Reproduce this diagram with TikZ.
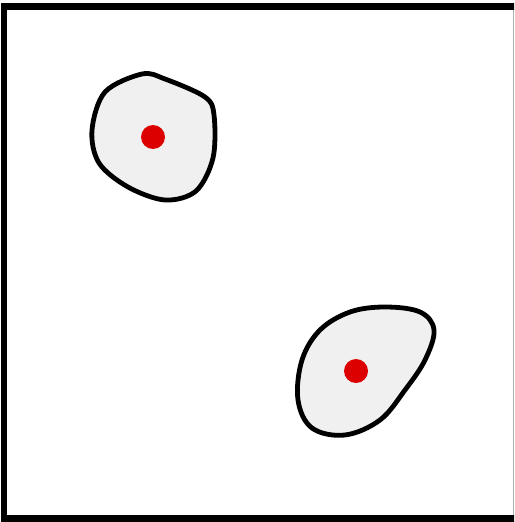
\documentclass[tikz,border=0pt]{standalone}
\begin{document}
\begin{tikzpicture}[x=1pt,y=-1pt,
  blob/.style={draw=black,line width=4.8pt,fill=blobgray,line join=round},
  seed/.style={fill=seedred,draw=none}]
\definecolor{blobgray}{HTML}{F0F0F0}
\definecolor{seedred}{HTML}{DD0000}
\useasboundingbox (0,0) rectangle (514,522);
\clip (0,0) rectangle (514,522);
\fill[white] (0,0) rectangle (514,522);
\draw[line width=6.5pt] (4,6.5) rectangle (518,518.5);
\draw[line width=0.6pt,gray!60] (513,10) -- (513,515);
\draw[blob] plot[smooth cycle,tension=0.55] coordinates {(142,74) (165,79) (205,97) (214,115) (213,158) (196,191) (165,200) (128,187) (99,163) (92,130) (105,92)};
\draw[blob] plot[smooth cycle,tension=0.6] coordinates {(350,312) (385,307) (420,312) (434,330) (425,360) (405,390) (380,420) (345,435) (312,428) (298,400) (302,360) (320,330)};
\fill[seed] (153,137) circle (12);
\fill[seed] (356,371) circle (12);
\end{tikzpicture}
\end{document}
